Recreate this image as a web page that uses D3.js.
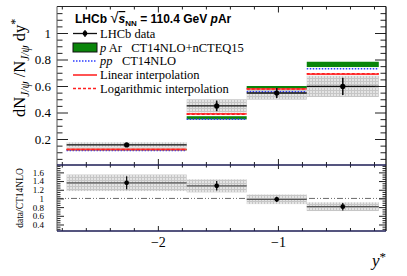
<!DOCTYPE html>
<html>
<head>
<meta charset="utf-8">
<script src="https://cdn.jsdelivr.net/npm/d3@7"></script>
<style>
body { margin: 0; background: #fff; }
svg { display: block; font-family: "Liberation Serif", "DejaVu Serif", serif; }
</style>
</head>
<body>
<svg id="chart" width="407" height="276"></svg>
<script>
var binEdges = [-2.76, -1.76, -1.26, -0.76, -0.16];
var dataValues = [0.155, 0.45, 0.547, 0.597];
var dataStat = [0.008, 0.04, 0.038, 0.065];
var dataSyst = [0.02, 0.05, 0.05, 0.08];

// predictions
var pArValues = [0.12, 0.36, 0.59, 0.763];
var pArErr = [0.006, 0.012, 0.01, 0.02];
var ppValues = [0.113, 0.35, 0.557, 0.73];
var linearValues = [0.122, 0.39, 0.577, 0.69];
var logValues = [0.121, 0.388, 0.578, 0.692];

// lower panel: data / CT14NLO
var ratioValues = [1.36, 1.29, 0.98, 0.81];
var ratioStat = [0.15, 0.11, 0.06, 0.085];
var ratioSyst = [0.19, 0.15, 0.11, 0.1];

// tick labels
var xTickLabels = ['\u22122', '\u22121'];
var yTopTickLabels = ['0.2', '0.4', '0.6', '0.8', '1'];
var yLowTickLabels = ['0.4', '0.6', '0.8', '1', '1.2', '1.4', '1.6'];

var svg = d3.select('#chart');

var x = d3.scaleLinear().domain([-2.84, -0.1]).range([57, 386]);
var yTop = d3.scaleLinear().domain([0, 1.2]).range([165.5, 6.5]);
var yLow = d3.scaleLinear().domain([0.25, 1.77]).range([231, 165]);

var bins = dataValues.map(function(v, i){
    return {
        lo: binEdges[i], hi: binEdges[i + 1], mid: (binEdges[i] + binEdges[i + 1]) / 2,
        val: v, stat: dataStat[i], syst: dataSyst[i],
        pAr: pArValues[i], pArErr: pArErr[i], pp: ppValues[i],
        lin: linearValues[i], log: logValues[i],
        ratio: ratioValues[i], rStat: ratioStat[i], rSyst: ratioSyst[i]
    };
});

// grey checkered fill for systematic boxes
var defs = svg.append('defs');
var pat = defs.append('pattern')
    .attr('id', 'syst')
    .attr('patternUnits', 'userSpaceOnUse')
    .attr('width', 3).attr('height', 3);
pat.append('rect').attr('width', 3).attr('height', 3).style('fill', '#e4e4e4');
pat.append('path').attr('d', 'M0,0.5H3M0.5,0V3').style('stroke', '#c6c6c6').style('stroke-width', 1);

function range(a, b, step){
    var out = [];
    for (var v = a; v <= b + 1e-9; v += step) out.push(Math.round(v * 1000) / 1000);
    return out;
}

var xMajor = xTickLabels.map(function(t){ return parseFloat(t.replace('\u2212', '-')); });
var xMinor = range(-2.8, -0.2, 0.2).filter(function(v){ return xMajor.indexOf(v) < 0; });

function drawAxis(axis, tx, ty){
    var g = svg.append('g').attr('transform', 'translate(' + tx + ',' + ty + ')').call(axis);
    g.select('.domain').remove();
    g.selectAll('line').style('stroke', '#222').style('stroke-width', 1);
    return g;
}

// ---------- upper panel ----------
var up = svg.append('g');

// data systematic boxes
up.selectAll('rect.syst').data(bins).enter().append('rect')
    .attr('x', function(d){ return x(d.lo); })
    .attr('width', function(d){ return x(d.hi) - x(d.lo); })
    .attr('y', function(d){ return yTop(d.val + d.syst); })
    .attr('height', function(d){ return yTop(d.val - d.syst) - yTop(d.val + d.syst); })
    .style('fill', 'url(#syst)');

// pAr band
up.selectAll('rect.pAr').data(bins).enter().append('rect')
    .attr('x', function(d){ return x(d.lo); })
    .attr('width', function(d){ return x(d.hi) - x(d.lo); })
    .attr('y', function(d){ return yTop(d.pAr + d.pArErr); })
    .attr('height', function(d){ return yTop(d.pAr - d.pArErr) - yTop(d.pAr + d.pArErr); })
    .style('fill', '#0a850a');

function hLines(key, color, width, dash){
    up.selectAll('line.' + key).data(bins).enter().append('line')
        .attr('x1', function(d){ return x(d.lo); })
        .attr('x2', function(d){ return x(d.hi); })
        .attr('y1', function(d){ return yTop(d[key]); })
        .attr('y2', function(d){ return yTop(d[key]); })
        .style('stroke', color).style('stroke-width', width)
        .style('stroke-dasharray', dash || null);
}
hLines('pp', '#2b3cff', 1.5, '1.5 1.5');
hLines('lin', '#ff4040', 1.6);
hLines('log', '#ff2020', 1.6, '3 2');

// data points
hLines('val', '#111', 1.3);
up.selectAll('line.stat').data(bins).enter().append('line')
    .attr('x1', function(d){ return x(d.mid); })
    .attr('x2', function(d){ return x(d.mid); })
    .attr('y1', function(d){ return yTop(d.val + d.stat); })
    .attr('y2', function(d){ return yTop(d.val - d.stat); })
    .style('stroke', '#111').style('stroke-width', 1.6);
up.selectAll('circle.pt').data(bins).enter().append('circle')
    .attr('cx', function(d){ return x(d.mid); })
    .attr('cy', function(d){ return yTop(d.val); })
    .attr('r', 2.6).style('fill', '#000');

// ---------- lower panel ----------
var low = svg.append('g');
low.append('line')
    .attr('x1', x(-2.84)).attr('x2', x(-0.1))
    .attr('y1', yLow(1)).attr('y2', yLow(1))
    .style('stroke', '#444').style('stroke-width', 0.8)
    .style('stroke-dasharray', '6 2 1 2 1 2');

low.selectAll('rect.rsyst').data(bins).enter().append('rect')
    .attr('x', function(d){ return x(d.lo); })
    .attr('width', function(d){ return x(d.hi) - x(d.lo); })
    .attr('y', function(d){ return yLow(d.ratio + d.rSyst); })
    .attr('height', function(d){ return yLow(d.ratio - d.rSyst) - yLow(d.ratio + d.rSyst); })
    .style('fill', 'url(#syst)');
low.selectAll('line.rx').data(bins).enter().append('line')
    .attr('x1', function(d){ return x(d.lo); })
    .attr('x2', function(d){ return x(d.hi); })
    .attr('y1', function(d){ return yLow(d.ratio); })
    .attr('y2', function(d){ return yLow(d.ratio); })
    .style('stroke', '#555').style('stroke-width', 1.3);
low.selectAll('line.ry').data(bins).enter().append('line')
    .attr('x1', function(d){ return x(d.mid); })
    .attr('x2', function(d){ return x(d.mid); })
    .attr('y1', function(d){ return yLow(d.ratio + d.rStat); })
    .attr('y2', function(d){ return yLow(d.ratio - d.rStat); })
    .style('stroke', '#111').style('stroke-width', 1.3);
low.selectAll('circle.rpt').data(bins).enter().append('circle')
    .attr('cx', function(d){ return x(d.mid); })
    .attr('cy', function(d){ return yLow(d.ratio); })
    .attr('r', 2.4).style('fill', '#000');

// ---------- axes ----------
var yTopMajor = yTopTickLabels.map(parseFloat);
var yTopMinor = range(0.05, 1.15, 0.05).filter(function(v){ return yTopMajor.indexOf(v) < 0; });
var yLowMajor = yLowTickLabels.map(parseFloat);
var yLowMinor = range(0.3, 1.75, 0.05).filter(function(v){ return yLowMajor.indexOf(v) < 0; });

// upper left / right
var gl = drawAxis(d3.axisLeft(yTop).tickValues(yTopMajor).tickSize(-11).tickPadding(6)
    .tickFormat(function(d, i){ return yTopTickLabels[i]; }), 57, 0);
gl.selectAll('text').style('font-size', '13px').style('font-family', '"Liberation Serif", serif').style('fill', '#000');
drawAxis(d3.axisLeft(yTop).tickValues(yTopMinor).tickSize(-5.5).tickFormat(''), 57, 0);
drawAxis(d3.axisRight(yTop).tickValues(yTopMajor).tickSize(-11).tickFormat(''), 386, 0);
drawAxis(d3.axisRight(yTop).tickValues(yTopMinor).tickSize(-5.5).tickFormat(''), 386, 0);

// lower left / right
var gll = drawAxis(d3.axisLeft(yLow).tickValues(yLowMajor).tickSize(-7).tickPadding(13)
    .tickFormat(function(d, i){ return yLowTickLabels[i]; }), 57, 0);
gll.selectAll('text').style('font-size', '9px').style('font-family', '"Liberation Serif", serif').style('fill', '#000');
drawAxis(d3.axisLeft(yLow).tickValues(yLowMinor).tickSize(-3.5).tickFormat(''), 57, 0);
drawAxis(d3.axisRight(yLow).tickValues(yLowMajor).tickSize(-7).tickFormat(''), 386, 0);
drawAxis(d3.axisRight(yLow).tickValues(yLowMinor).tickSize(-3.5).tickFormat(''), 386, 0);

// x ticks: top of upper, bottom of upper, top of lower, bottom of lower
drawAxis(d3.axisTop(x).tickValues(xMajor).tickSize(-6).tickFormat(''), 0, 6.5);
drawAxis(d3.axisTop(x).tickValues(xMinor).tickSize(-3).tickFormat(''), 0, 6.5);
drawAxis(d3.axisBottom(x).tickValues(xMajor).tickSize(-6).tickFormat(''), 0, 165);
drawAxis(d3.axisBottom(x).tickValues(xMinor).tickSize(-3).tickFormat(''), 0, 165);
drawAxis(d3.axisTop(x).tickValues(xMajor).tickSize(-4).tickFormat(''), 0, 165);
drawAxis(d3.axisTop(x).tickValues(xMinor).tickSize(-2.5).tickFormat(''), 0, 165);
var gx = drawAxis(d3.axisBottom(x).tickValues(xMajor).tickSize(-5).tickPadding(6)
    .tickFormat(function(d, i){ return xTickLabels[i]; }), 0, 231);
gx.selectAll('text').style('font-size', '14px').style('font-family', '"Liberation Serif", serif').style('fill', '#000');
drawAxis(d3.axisBottom(x).tickValues(xMinor).tickSize(-3).tickFormat(''), 0, 231);

// frames
svg.append('line').attr('x1', 57).attr('x2', 386).attr('y1', 6.5).attr('y2', 6.5).style('stroke', '#222');
svg.append('line').attr('x1', 57).attr('x2', 57).attr('y1', 6.5).attr('y2', 231).style('stroke', '#555');
svg.append('line').attr('x1', 386).attr('x2', 386).attr('y1', 6.5).attr('y2', 231).style('stroke', '#111').style('stroke-width', 1.3);
svg.append('line').attr('x1', 57).attr('x2', 386).attr('y1', 165).attr('y2', 165).style('stroke', '#1c1c55').style('stroke-width', 1.5);
svg.append('line').attr('x1', 57).attr('x2', 386).attr('y1', 231).attr('y2', 231).style('stroke', '#1c1c55').style('stroke-width', 1.5);

// ---------- titles ----------
var yt = svg.append('text')
    .attr('transform', 'translate(25,117) rotate(-90)')
    .style('font-size', '16.5px');
yt.append('tspan').text('dN');
yt.append('tspan').attr('dy', 3.5).style('font-size', '11.5px').style('font-style', 'italic').text('J/\u03C8');
yt.append('tspan').attr('dy', -3.5).text(' /N');
yt.append('tspan').attr('dy', 3.5).style('font-size', '11.5px').style('font-style', 'italic').text('J/\u03C8');
yt.append('tspan').attr('dy', -3.5).text(' dy');
yt.append('tspan').attr('dy', -6).style('font-size', '12px').text('*');

svg.append('text')
    .attr('transform', 'translate(23,198) rotate(-90)')
    .attr('text-anchor', 'middle')
    .style('font-size', '9.5px')
    .text('data/CT14NLO');

var xt = svg.append('text')
    .attr('x', 386).attr('y', 266)
    .attr('text-anchor', 'end')
    .style('font-size', '17px').style('font-style', 'italic');
xt.append('tspan').text('y');
xt.append('tspan').attr('dy', -5).style('font-style', 'normal').style('font-size', '13px').text('*');

// ---------- header & legend ----------
var hd = svg.append('text')
    .attr('x', 75).attr('y', 23)
    .style('font-family', '"Liberation Sans", Arial, sans-serif')
    .style('font-weight', 'bold').style('font-size', '12px');
hd.append('tspan').text('LHCb ');
hd.append('tspan').style('font-weight', 'normal').style('font-size', '15px').text('\u221A');
hd.append('tspan').style('font-style', 'italic').style('text-decoration', 'overline').text('s');
hd.append('tspan').attr('dy', 3).style('font-size', '8px').text('NN');
hd.append('tspan').attr('dy', -3).text(' = 110.4 GeV ');
hd.append('tspan').style('font-style', 'italic').text('p');
hd.append('tspan').text('Ar');

var lg = svg.append('g');
var legendRows = [33.5, 47.5, 61, 75, 88.5];
var lx0 = 73, lx1 = 97, tx = 100;

lg.append('line').attr('x1', lx0).attr('x2', lx1).attr('y1', legendRows[0]).attr('y2', legendRows[0])
    .style('stroke', '#111').style('stroke-width', 1.3);
lg.append('line').attr('x1', 85).attr('x2', 85).attr('y1', legendRows[0] - 3.5).attr('y2', legendRows[0] + 3.5)
    .style('stroke', '#111').style('stroke-width', 1.3);
lg.append('circle').attr('cx', 85).attr('cy', legendRows[0]).attr('r', 2.4).style('fill', '#000');

lg.append('rect').attr('x', lx0).attr('y', legendRows[1] - 4.5).attr('width', lx1 - lx0).attr('height', 9)
    .style('fill', '#0a850a').style('stroke', '#111').style('stroke-width', 1);
lg.append('line').attr('x1', lx0).attr('x2', lx1).attr('y1', legendRows[2]).attr('y2', legendRows[2])
    .style('stroke', '#2b3cff').style('stroke-width', 1.5).style('stroke-dasharray', '1.5 1.5');
lg.append('line').attr('x1', lx0).attr('x2', lx1).attr('y1', legendRows[3]).attr('y2', legendRows[3])
    .style('stroke', '#ff4040').style('stroke-width', 1.8);
lg.append('line').attr('x1', lx0).attr('x2', lx1).attr('y1', legendRows[4]).attr('y2', legendRows[4])
    .style('stroke', '#ff2020').style('stroke-width', 1.6).style('stroke-dasharray', '3 2');

function legendText(row){
    return lg.append('text').attr('x', tx).attr('y', legendRows[row] + 4).style('font-size', '12.5px');
}
legendText(0).text('LHCb data');
var t1 = legendText(1);
t1.append('tspan').style('font-style', 'italic').text('p');
t1.append('tspan').text(' Ar\u2002 CT14NLO+nCTEQ15');
var t2 = legendText(2);
t2.append('tspan').style('font-style', 'italic').text('pp');
t2.append('tspan').text('\u2002 CT14NLO');
legendText(3).text('Linear interpolation');
legendText(4).text('Logarithmic interpolation');
</script>
</body>
</html>
